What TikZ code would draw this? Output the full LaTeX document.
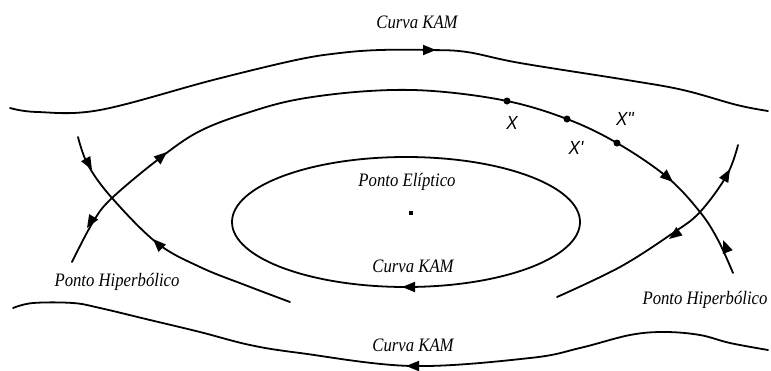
\documentclass[tikz,border=0pt]{standalone}
\usepackage{fontspec}
\setmainfont{Liberation Serif}
\newfontfamily\sansx{Liberation Sans}
\usetikzlibrary{arrows.meta}
\tikzset{
  curve/.style={line width=1.8pt, line cap=round},
  tip/.style={line width=1.8pt, -{Triangle[length=13pt,width=10pt]}},
  lbl/.style={font=\fontsize{19}{19}\selectfont\itshape, xscale=0.88, inner sep=0pt},
  xlbl/.style={font=\sansx\fontsize{19}{19}\selectfont\itshape, xscale=0.9, inner sep=0pt},
  pt/.style={circle, fill=black, inner sep=0pt, minimum size=7pt}
}
\begin{document}
\begin{tikzpicture}[x=1pt,y=-1pt]
\useasboundingbox (0,0) rectangle (771,370);
% top KAM curve
\draw[curve] plot[smooth, tension=0.6] coordinates {(10,108) (37,112) (100,110) (213,80) (296,60) (340,53) (380,50) (430,50) (467,52) (520,63) (627,80) (683,90) (737,105) (768,111)};
% bottom KAM curve
\draw[curve] plot[smooth, tension=0.6] coordinates {(13,308) (33,303) (73,303) (100,308) (150,320) (200,332) (250,345) (300,353) (412,366) (530,358) (580,348) (630,335) (665,332) (700,335) (730,343) (768,350)};
% upper separatrix arc
\draw[curve] plot[smooth, tension=0.6] coordinates {(72,262) (93,222) (112,198) (160,158) (200,131) (250,112) (300,99) (369,91) (433,91) (507,101) (567,119) (617,143) (667,177) (700,212) (718,240) (733,273)};
% left lower separatrix
\draw[curve] plot[smooth, tension=0.6] coordinates {(78,137) (88,165) (112,198) (157,243) (200,267) (245,285) (290,302)};
% right lower separatrix
\draw[curve] plot[smooth, tension=0.6] coordinates {(738,145) (727,175) (700,212) (673,233) (620,267) (557,297)};
% ellipse
\draw[curve] (406,222) ellipse [x radius=174, y radius=65];
\node[fill=black, inner sep=0pt, minimum size=3.5pt] (ell) at (411,213) {};
% arrowheads
\coordinate (a1s) at (426,50);  \coordinate (a1e) at (436,50);
\coordinate (a2s) at (416,366); \coordinate (a2e) at (406,366);
\coordinate (a3s) at (412,287); \coordinate (a3e) at (402,287);
\coordinate (a4s) at (93,218);  \coordinate (a4e) at (87,228);
\coordinate (a5s) at (160,158); \coordinate (a5e) at (167,152);
\coordinate (a6s) at (665,175); \coordinate (a6e) at (673,182);
\coordinate (a7s) at (727,250); \coordinate (a7e) at (723,240);
\coordinate (a8s) at (87,161);  \coordinate (a8e) at (92,170);
\coordinate (a9s) at (160,246); \coordinate (a9e) at (153,239);
\coordinate (a10s) at (725,178); \coordinate (a10e) at (730,169);
\coordinate (a11s) at (677,233); \coordinate (a11e) at (669,239);
\foreach \i in {1,...,11} {\draw[tip] (a\i s) -- (a\i e);}
% points X
\node[pt] (x1) at (507,101) {};
\node[pt] (x2) at (567,119) {};
\node[pt] (x3) at (617,143) {};
\node[xlbl] (lx1) at (512,123) {X};
\node[xlbl] (lx2) at (576,148) {X'};
\node[xlbl] (lx3) at (625,119) {X''};
% labels
\node[lbl] (kamtop) at (417,22) {Curva KAM};
\node[lbl] (kammid) at (413,266) {Curva KAM};
\node[lbl] (kambot) at (413,345) {Curva KAM};
\node[lbl] (elip) at (407,182) {Ponto Elíptico};
\node[lbl] (hipl) at (117,282) {Ponto Hiperbólico};
\node[lbl] (hipr) at (705,300) {Ponto Hiperbólico};
\end{tikzpicture}
\end{document}
